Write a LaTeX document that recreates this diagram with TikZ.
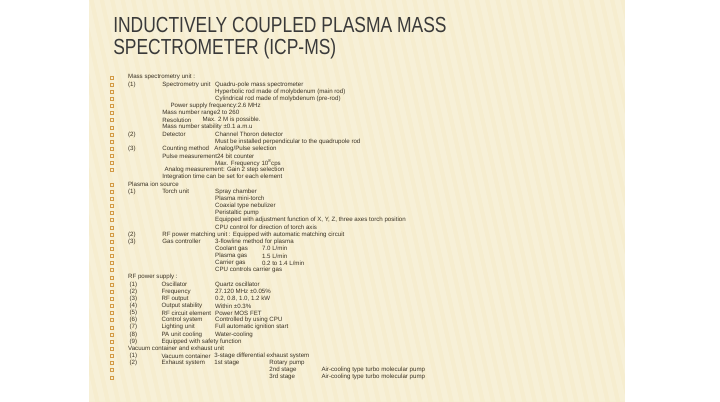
\documentclass[tikz,border=0pt]{standalone}
\usepackage{fontspec}
\setmainfont{Liberation Sans}
\usetikzlibrary{positioning}
\definecolor{paper}{HTML}{F6EDCF}
\definecolor{ink}{HTML}{3B3325}
\definecolor{titleink}{HTML}{3A3A3A}
\definecolor{bulletc}{HTML}{D39A45}
\begin{document}
\begin{tikzpicture}[x=0.75pt,y=-0.75pt,
  txt/.style={anchor=west,inner sep=0pt,text=ink,font=\fontsize{6.2}{7}\selectfont},
  ttl/.style={anchor=west,inner sep=0pt,text=titleink,font=\fontsize{22}{24}\selectfont}]
\fill[paper] (0,0) rectangle (720,540);
\foreach \i in {0,...,60}{\fill[white,opacity=0.18] (\i*14-120,0) -- (\i*14-112,0) -- (\i*14+8,540) -- (\i*14,540) -- cycle;}
\useasboundingbox (0,0) rectangle (720,540);
% title
\node[ttl] (t1) at (32,34) {\scalebox{0.8}[1]{INDUCTIVELY COUPLED PLASMA MASS}};
\node[ttl] (t2) at (32,66) {\scalebox{0.8}[1]{SPECTROMETER (ICP-MS)}};
% bullets
\foreach \n in {1,...,14,16,17,...,43}{
  \draw[bulletc,line width=0.5pt] (28,{104+(\n-1)*9.6-2}) rectangle ++(4,4);
}
% mass spectrometry unit
\node[txt] (r1) at (52,104.0) {Mass spectrometry unit :};
\node[txt] (r2a) at (52,113.6) {(1)};
\node[txt] (r2b) at (98,113.6) {Spectrometry unit};
\node[txt] (r2c) at (169,113.6) {Quadru-pole mass spectrometer};
\node[txt] (r3) at (169,123.2) {Hyperbolic rod made of molybdenum (main rod)};
\node[txt] (r4) at (169,132.8) {Cylindrical rod made of molybdenum (pre-rod)};
\node[txt] (r5) at (109,142.4) {Power supply frequency:2.6 MHz};
\node[txt] (r6) at (98,152.0) {Mass number range2 to 260};
\node[txt] (r7a) at (98,161.6) {Resolution};
\node[txt] (r7b) at (152,161.6) {Max. 2 M is possible.};
\node[txt] (r8) at (98,171.2) {Mass number stability ±0.1 a.m.u};
\node[txt] (r9a) at (52,180.8) {(2)};
\node[txt] (r9b) at (98,180.8) {Detector};
\node[txt] (r9c) at (169,180.8) {Channel Thoron detector};
\node[txt] (r10) at (169,190.4) {Must be installed perpendicular to the quadrupole rod};
\node[txt] (r11a) at (52,200.0) {(3)};
\node[txt] (r11b) at (98,200.0) {Counting method};
\node[txt] (r11c) at (168,200.0) {Analog/Pulse selection};
\node[txt] (r12) at (98,209.6) {Pulse measurement24 bit counter};
\node[txt] (r13) at (169,219.2) {Max. Frequency 10\textsuperscript{8}cps};
\node[txt] (r14) at (101,228.8) {Analog measurement: Gain 2 step selection};
\node[txt] (r15) at (98,238.4) {Integration time can be set for each element};
% plasma ion source
\node[txt] (r16) at (52,248.0) {Plasma ion source};
\node[txt] (r17a) at (52,257.6) {(1)};
\node[txt] (r17b) at (98,257.6) {Torch unit};
\node[txt] (r17c) at (169,257.6) {Spray chamber};
\node[txt] (r18) at (169,267.2) {Plasma mini-torch};
\node[txt] (r19) at (169,276.8) {Coaxial type nebulizer};
\node[txt] (r20) at (169,286.4) {Peristaltic pump};
\node[txt] (r21) at (169,296.0) {Equipped with adjustment function of X, Y, Z, three axes torch position};
\node[txt] (r22) at (169,305.6) {CPU control for direction of torch axis};
\node[txt] (r23a) at (52,315.2) {(2)};
\node[txt] (r23b) at (98,315.2) {RF power matching unit : Equipped with automatic matching circuit};
\node[txt] (r24a) at (52,324.8) {(3)};
\node[txt] (r24b) at (98,324.8) {Gas controller};
\node[txt] (r24c) at (169,324.8) {3-flowline method for plasma};
\node[txt] (r25a) at (169,334.4) {Coolant gas};
\node[txt] (r25b) at (232,334.4) {7.0 L/min};
\node[txt] (r26a) at (169,344.0) {Plasma gas};
\node[txt] (r26b) at (232,344.0) {1.5 L/min};
\node[txt] (r27a) at (169,353.6) {Carrier gas};
\node[txt] (r27b) at (232,353.6) {0.2 to 1.4 L/min};
\node[txt] (r28) at (169,363.2) {CPU controls carrier gas};
% RF power supply
\node[txt] (r29) at (52,372.8) {RF power supply :};
\node[txt] (r30a) at (54,382.4) {(1)};
\node[txt] (r30b) at (97,382.4) {Oscillator};
\node[txt] (r30c) at (169,382.4) {Quartz oscillator};
\node[txt] (r31a) at (54,392.0) {(2)};
\node[txt] (r31b) at (97,392.0) {Frequency};
\node[txt] (r31c) at (169,392.0) {27.120 MHz ±0.05\%};
\node[txt] (r32a) at (54,401.6) {(3)};
\node[txt] (r32b) at (97,401.6) {RF output};
\node[txt] (r32c) at (169,401.6) {0.2, 0.8, 1.0, 1.2 kW};
\node[txt] (r33a) at (54,411.2) {(4)};
\node[txt] (r33b) at (97,411.2) {Output stability};
\node[txt] (r33c) at (169,411.2) {Within ±0.3\%};
\node[txt] (r34a) at (54,420.8) {(5)};
\node[txt] (r34b) at (97,420.8) {RF circuit element};
\node[txt] (r34c) at (169,420.8) {Power MOS FET};
\node[txt] (r35a) at (54,430.4) {(6)};
\node[txt] (r35b) at (97,430.4) {Control system};
\node[txt] (r35c) at (169,430.4) {Controlled by using CPU};
\node[txt] (r36a) at (54,440.0) {(7)};
\node[txt] (r36b) at (97,440.0) {Lighting unit};
\node[txt] (r36c) at (169,440.0) {Full automatic ignition start};
\node[txt] (r37a) at (54,449.6) {(8)};
\node[txt] (r37b) at (97,449.6) {PA unit cooling};
\node[txt] (r37c) at (169,449.6) {Water-cooling};
\node[txt] (r38a) at (54,459.2) {(9)};
\node[txt] (r38b) at (97,459.2) {Equipped with safety function};
% vacuum container
\node[txt] (r39) at (52,468.8) {Vacuum container and exhaust unit};
\node[txt] (r40a) at (54,478.4) {(1)};
\node[txt] (r40b) at (97,478.4) {Vacuum container};
\node[txt] (r40c) at (168,478.4) {3-stage differential exhaust system};
\node[txt] (r41a) at (54,488.0) {(2)};
\node[txt] (r41b) at (97,488.0) {Exhaust system};
\node[txt] (r41c) at (168,488.0) {1st stage};
\node[txt] (r41d) at (242,488.0) {Rotary pump};
\node[txt] (r42a) at (242,497.6) {2nd stage};
\node[txt] (r42b) at (312,497.6) {Air-cooling type turbo molecular pump};
\node[txt] (r43a) at (242,507.2) {3rd stage};
\node[txt] (r43b) at (312,507.2) {Air-cooling type turbo molecular pump};
\end{tikzpicture}
\end{document}
